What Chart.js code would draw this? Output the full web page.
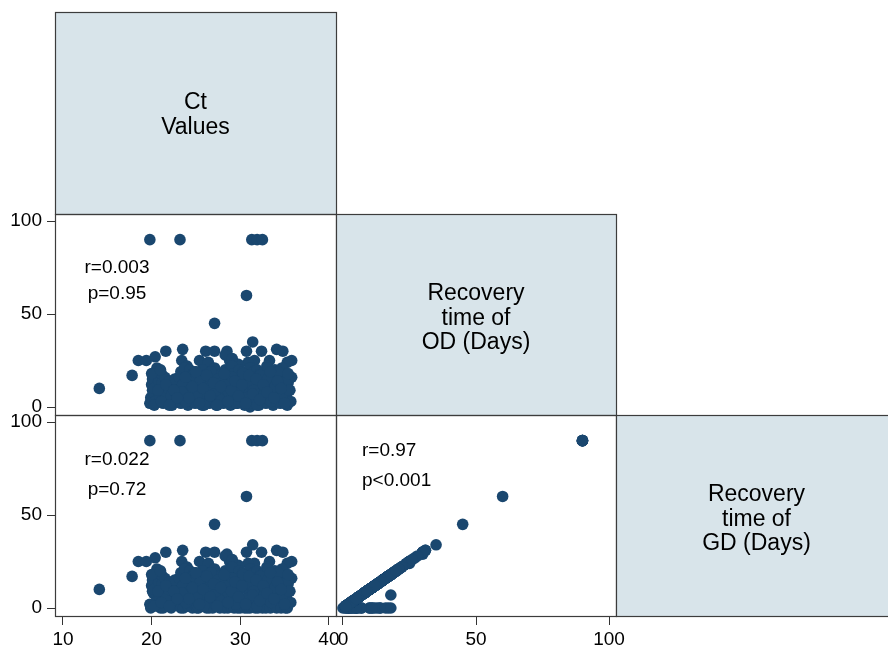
<!DOCTYPE html>
<html>
<head>
<meta charset="utf-8">
<script src="https://cdn.jsdelivr.net/npm/chart.js@4.4.1/dist/chart.umd.min.js"></script>
<style>
  html, body { margin: 0; padding: 0; background: #fff; overflow: hidden; }
  canvas { display: block; }
</style>
</head>
<body>
<canvas id="matrix" width="897" height="648"></canvas>
<script>
// names shown on the diagonal of the matrix
const varLabels = [['Ct', 'Values'], ['Recovery', 'time of', 'OD (Days)'], ['Recovery', 'time of', 'GD (Days)']];

// tick labels
const ctTicks = [10, 20, 30, 40];
const odTicks = [0, 50, 100];
const gdTicks = [0, 50, 100];

// one entry per patient (same order in the three lists)
const ctValues = [
  14.1, 17.8, 18.5, 19.4, 20.4, 21.6, 19.8, 23.2,
  31.3, 31.9, 32.5, 30.7, 27.1, 31.4, 23.5, 26.1,
  27.1, 28.5, 28.8, 25.4, 30.7, 32.4, 34.1, 34.8,
  35.8, 33.3, 31.6, 23.4, 20.6, 19.8, 31.1, 28.3,
  30.9, 35.3, 24.0, 29.8, 33.0, 26.4, 29.1, 20.1,
  19.9, 20.2, 20.0, 20.1,
  20.4, 20.3, 20.6, 20.5,
  20.9, 21.0, 20.8, 21.1,
  21.3, 21.4, 21.2, 21.5,
  21.8, 21.7, 21.9, 22.0,
  22.3, 22.2, 22.4,
  22.8, 22.7, 22.9, 22.6,
  23.3, 23.2, 23.4, 23.1, 23.3,
  23.7, 23.8, 23.6, 23.9, 23.7,
  24.1, 24.0, 24.2, 24.1, 24.3,
  24.5, 24.6, 24.4, 24.5, 24.7,
  24.9, 25.0, 24.8, 25.1, 24.9,
  25.3, 25.2, 25.4, 25.3, 25.5,
  25.7, 25.8, 25.6, 25.7,
  26.1, 26.0, 26.2, 26.1, 26.3,
  26.5, 26.6, 26.4, 26.5, 26.7,
  26.9, 27.0, 26.8, 26.9, 27.1,
  27.3, 27.2, 27.4, 27.3,
  27.7, 27.8, 27.6, 27.7, 27.9,
  28.1, 28.0, 28.2, 28.1, 28.3,
  28.5, 28.6, 28.4, 28.5, 28.7,
  28.9, 29.0, 28.8, 28.9, 29.1,
  29.3, 29.2, 29.4, 29.3, 29.5,
  29.7, 29.8, 29.6, 29.7, 29.9,
  30.1, 30.0, 30.2, 30.1, 30.3,
  30.5, 30.6, 30.4, 30.5, 30.7,
  30.9, 31.0, 30.8, 30.9, 31.1,
  31.3, 31.2, 31.4, 31.3, 31.5,
  31.7, 31.8, 31.6, 31.7, 31.9,
  32.1, 32.0, 32.2, 32.1, 32.3,
  32.5, 32.6, 32.4, 32.5, 32.7,
  32.9, 33.0, 32.8, 32.9, 33.1,
  33.3, 33.2, 33.4, 33.3, 33.5,
  33.7, 33.8, 33.6, 33.7, 33.9,
  34.1, 34.0, 34.2, 34.1, 34.3,
  34.5, 34.6, 34.4, 34.5, 34.7,
  34.9, 35.0, 34.8, 34.9, 35.1,
  35.3, 35.2, 35.4, 35.3,
  35.7, 35.6, 35.8,
  23.5, 23.9, 24.3, 24.7, 25.1, 25.5, 25.9, 26.3, 26.7, 27.1, 27.5,
  27.9, 28.3, 28.7, 29.1, 29.5, 29.9, 30.3, 30.7, 31.1, 31.5,
  31.9, 32.3, 32.7, 33.1, 33.5, 33.9, 34.3, 34.7, 35.1, 35.5,
  23.4, 23.8, 24.2, 24.6, 25.0, 25.4, 25.8, 26.2, 26.6, 27.0, 27.4,
  27.8, 28.2, 28.6, 29.0, 29.4, 29.8, 30.2, 30.6, 31.0, 31.4,
  31.8, 32.2, 32.6, 33.0, 33.4, 33.8, 34.2, 34.6, 35.0, 35.4,
  20.0, 20.3, 20.7, 21.1, 21.6, 22.0, 22.5, 22.9, 21.0
];
const odDays = [
  10, 17, 25, 25, 27, 30, 90, 90,
  90, 90, 90, 60, 45, 35, 31, 30,
  30, 30, 25, 25, 30, 30, 31, 30,
  25, 25, 25, 25, 21, 2, 0, 28,
  24, 24, 22, 23, 22, 24, 26, 9,
  5, 8, 12, 15,
  3, 10, 17, 19,
  6, 11, 14, 18,
  2, 8, 13, 16,
  4, 7, 10, 14,
  1, 6, 12,
  3, 8, 11, 15,
  2, 6, 10, 16, 19,
  4, 9, 13, 17, 21,
  1, 7, 11, 15, 20,
  3, 5, 12, 16, 18,
  2, 8, 10, 14, 19,
  4, 6, 11, 15, 17,
  1, 9, 13, 20,
  3, 7, 10, 16, 18,
  2, 5, 12, 14, 19,
  4, 8, 11, 17, 21,
  1, 6, 13, 15,
  3, 9, 10, 16, 18,
  2, 7, 12, 14, 20,
  4, 5, 11, 17, 19,
  1, 8, 13, 15, 22,
  3, 6, 10, 18, 16,
  2, 9, 12, 14, 20,
  4, 7, 11, 17, 19,
  1, 5, 13, 15, 18,
  3, 8, 10, 16, 21,
  2, 6, 12, 14, 19,
  4, 9, 11, 17, 20,
  1, 7, 13, 15, 18,
  3, 5, 10, 16, 19,
  2, 8, 12, 14, 21,
  4, 6, 11, 17, 18,
  1, 9, 13, 15, 20,
  3, 7, 10, 16, 19,
  2, 5, 12, 14, 21,
  4, 8, 11, 17, 18,
  1, 6, 13, 15,
  3, 9, 16,
  12, 3, 9, 17, 6, 14, 1, 11, 19, 7, 15,
  4, 12, 8, 16, 2, 10, 18, 5, 13, 9,
  1, 17, 7, 15, 3, 11, 19, 6, 13, 9,
  8, 16, 5, 11, 19, 2, 10, 17, 6, 13, 1,
  11, 18, 3, 9, 14, 6, 12, 2, 17, 7,
  15, 4, 12, 8, 19, 5, 14, 10, 2, 18,
  18, 1, 9, 3, 12, 1, 9, 5, 20
];
const gdDays = [
  10, 17, 25, 25, 27, 30, 90, 90,
  90, 90, 90, 60, 45, 34, 31, 30,
  30, 29, 25, 25, 30, 30, 31, 30,
  25, 25, 24, 25, 21, 2, 0, 28,
  24, 24, 22, 23, 22, 24, 26, 9,
  0, 8, 12, 15,
  3, 10, 17, 19,
  6, 0, 14, 18,
  0, 8, 13, 16,
  4, 7, 10, 14,
  1, 0, 12,
  3, 8, 11, 15,
  0, 6, 10, 16, 19,
  4, 9, 0, 17, 21,
  1, 7, 11, 15, 20,
  3, 0, 12, 16, 18,
  2, 8, 10, 0, 19,
  0, 6, 11, 15, 17,
  1, 9, 13, 20,
  3, 7, 0, 16, 18,
  0, 5, 12, 14, 19,
  4, 8, 11, 0, 21,
  1, 6, 13, 15,
  0, 9, 10, 16, 18,
  2, 7, 0, 14, 20,
  4, 0, 11, 17, 19,
  1, 8, 13, 15, 22,
  0, 6, 10, 7, 16,
  2, 9, 12, 0, 20,
  4, 0, 11, 17, 19,
  0, 5, 13, 15, 18,
  3, 8, 0, 16, 21,
  2, 6, 12, 14, 19,
  0, 9, 11, 17, 20,
  1, 0, 13, 15, 18,
  3, 5, 10, 0, 19,
  0, 8, 12, 14, 21,
  4, 6, 0, 17, 18,
  1, 9, 13, 15, 20,
  0, 7, 10, 16, 19,
  2, 0, 12, 14, 21,
  4, 8, 11, 17, 0,
  0, 6, 13, 15,
  3, 9, 16,
  12, 3, 9, 17, 6, 14, 1, 11, 19, 7, 15,
  4, 12, 8, 16, 2, 10, 18, 5, 13, 9,
  1, 17, 7, 15, 3, 11, 19, 6, 13, 9,
  8, 16, 5, 11, 19, 2, 10, 17, 6, 13, 1,
  11, 18, 3, 9, 14, 6, 12, 2, 17, 7,
  15, 4, 12, 8, 19, 5, 14, 10, 2, 18,
  18, 1, 9, 3, 12, 1, 9, 5, 20
];

// correlation text in the lower cells: Ct-OD, Ct-GD, OD-GD
const corrR = ['r=0.003', 'r=0.022', 'r=0.97'];
const corrP = ['p=0.95', 'p=0.72', 'p<0.001'];

if (ctValues.length !== odDays.length || odDays.length !== gdDays.length) {
  throw new Error('length mismatch ' + ctValues.length + ' ' + odDays.length + ' ' + gdDays.length);
}

const navy = '#1a476f';
const boxFill = '#d8e4ea';
const frameColor = '#3c3c3c';
const fontFamily = '"Liberation Sans", Arial, Helvetica, sans-serif';

Chart.defaults.font.family = fontFamily;
Chart.defaults.color = '#000';

function pairs(xs, ys) {
  return xs.map((v, i) => ({x: v, y: ys[i]}));
}

// where the r / p lines sit inside each lower cell (pixels from cell corner)
const notePlace = [
  {col: 0, row: 1, dx: 62, dy: 54, gap: 26, align: 'center'},
  {col: 0, row: 2, dx: 62, dy: 45, gap: 30, align: 'center'},
  {col: 1, row: 2, dx: 26, dy: 36, gap: 30, align: 'left'}
];

const matrixFrame = {
  id: 'matrixFrame',
  beforeDatasetsDraw(chart) {
    const ctx = chart.ctx;
    const s = chart.scales;
    const cols = [s.xCt, s.xOD, s.xGD];
    const rows = [s.yTop, s.yOD, s.yGD];
    ctx.save();
    for (let r = 0; r < 3; r++) {
      for (let c = 0; c <= r; c++) {
        const x0 = Math.round(cols[c].left) + 0.5, x1 = Math.round(cols[c].right) + 0.5;
        const y0 = Math.round(rows[r].top) + 0.5, y1 = Math.round(rows[r].bottom) + 0.5;
        if (r === c) {
          ctx.fillStyle = boxFill;
          ctx.fillRect(x0, y0, x1 - x0, y1 - y0);
        }
        ctx.strokeStyle = frameColor;
        ctx.lineWidth = 1.2;
        ctx.strokeRect(x0, y0, x1 - x0, y1 - y0);
      }
    }
    ctx.fillStyle = '#000';
    ctx.font = '23px ' + fontFamily;
    ctx.textAlign = 'center';
    ctx.textBaseline = 'middle';
    varLabels.forEach((lines, i) => {
      const cx = (cols[i].left + cols[i].right) / 2;
      const cy = (rows[i].top + rows[i].bottom) / 2 + (i === 0 ? 2 : 4);
      lines.forEach((t, k) => ctx.fillText(t, cx, cy + (k - (lines.length - 1) / 2) * 24.5));
    });
    ctx.restore();
  },
  afterDatasetsDraw(chart) {
    const ctx = chart.ctx;
    const s = chart.scales;
    const cols = [s.xCt, s.xOD, s.xGD];
    const rows = [s.yTop, s.yOD, s.yGD];
    ctx.save();
    ctx.fillStyle = '#000';
    ctx.font = '19px ' + fontFamily;
    ctx.textBaseline = 'middle';
    notePlace.forEach((p, i) => {
      ctx.textAlign = p.align;
      const x = cols[p.col].left + p.dx;
      const y = rows[p.row].top + p.dy;
      ctx.fillText(corrR[i], x, y);
      ctx.fillText(corrP[i], x, y + p.gap);
    });
    ctx.restore();
  }
};

function tickAxis(extra) {
  return Object.assign({
    type: 'linear',
    grid: {display: true, drawOnChartArea: false, drawTicks: true, color: '#333', lineWidth: 1},
    border: {display: false},
    ticks: {font: {size: 19}, color: '#000', autoSkip: false, maxRotation: 0}
  }, extra);
}

function blankAxis(extra) {
  return Object.assign({
    type: 'linear', min: 0, max: 1,
    grid: {display: false},
    border: {display: false},
    ticks: {display: false}
  }, extra);
}

function fixX(scale) {
  scale.height = 32;
  scale.paddingLeft = scale.paddingRight = scale.paddingTop = scale.paddingBottom = 0;
}
function fixY(scale) {
  scale.width = 55;
  scale.paddingLeft = scale.paddingRight = scale.paddingTop = scale.paddingBottom = 0;
}

const xCt = tickAxis({position: 'bottom', stack: 'cols', stackWeight: 281, weight: 1, min: 9.1, max: 40.8,
  afterBuildTicks: sc => { sc.ticks = ctTicks.map(v => ({value: v})); }, afterFit: fixX});
xCt.grid.tickLength = 9; xCt.ticks.padding = 3;
const xOD = tickAxis({position: 'bottom', stack: 'cols', stackWeight: 280, weight: 2, min: -2.6, max: 102.6,
  afterBuildTicks: sc => { sc.ticks = odTicks.map(v => ({value: v})); }, afterFit: fixX});
xOD.grid.tickLength = 9; xOD.ticks.padding = 3;
const xGD = blankAxis({position: 'bottom', stack: 'cols', stackWeight: 281, weight: 3, afterFit: fixX});

const yTop = blankAxis({position: 'left', stack: 'rows', stackWeight: 202, weight: 3, afterFit: fixY});
const yOD = tickAxis({position: 'left', stack: 'rows', stackWeight: 201, weight: 2, min: -4.3, max: 103.8,
  afterBuildTicks: sc => { sc.ticks = odTicks.map(v => ({value: v})); }, afterFit: fixY});
yOD.grid.tickLength = 8; yOD.ticks.padding = 5;
const yGD = tickAxis({position: 'left', stack: 'rows', stackWeight: 201, weight: 1, min: -4.3, max: 103.8,
  afterBuildTicks: sc => { sc.ticks = gdTicks.map(v => ({value: v})); }, afterFit: fixY});
yGD.grid.tickLength = 8; yGD.ticks.padding = 5;

const pointStyle = {
  showLine: false,
  pointRadius: 5.8,
  pointHoverRadius: 5.8,
  pointBorderWidth: 0,
  pointBackgroundColor: navy,
  backgroundColor: navy,
  borderColor: navy
};

new Chart(document.getElementById('matrix'), {
  type: 'scatter',
  data: {
    datasets: [
      Object.assign({label: 'Ct vs OD', data: pairs(ctValues, odDays), xAxisID: 'xCt', yAxisID: 'yOD'}, pointStyle),
      Object.assign({label: 'Ct vs GD', data: pairs(ctValues, gdDays), xAxisID: 'xCt', yAxisID: 'yGD'}, pointStyle),
      Object.assign({label: 'OD vs GD', data: pairs(odDays, gdDays), xAxisID: 'xOD', yAxisID: 'yGD'}, pointStyle)
    ]
  },
  options: {
    responsive: false,
    animation: false,
    layout: {padding: {top: 12, left: 0, right: 0, bottom: 0}, autoPadding: false},
    plugins: {legend: {display: false}, tooltip: {enabled: false}},
    scales: {xCt, xOD, xGD, yTop, yOD, yGD}
  },
  plugins: [matrixFrame]
});
</script>
</body>
</html>
